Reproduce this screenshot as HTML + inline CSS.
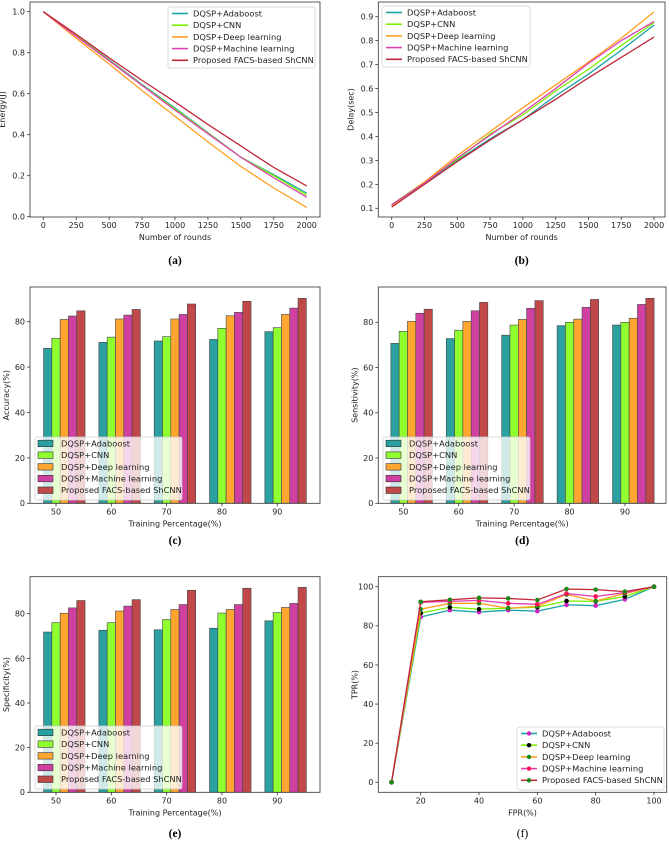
<!DOCTYPE html>
<html><head><meta charset="utf-8"><style>
html,body{margin:0;padding:0;background:#fff;}
svg{display:block;font-family:"DejaVu Sans","Liberation Sans",sans-serif;}
</style></head><body>
<svg id="fig" width="669" height="842" viewBox="0 0 669 842" xmlns="http://www.w3.org/2000/svg"></svg>
<script>
const seriesNames = ["DQSP+Adaboost","DQSP+CNN","DQSP+Deep learning","DQSP+Machine learning","Proposed FACS-based ShCNN"];
const lineColors = ["#1aa3a3","#7cf000","#ffa020","#e040b0","#c02838"];
const barColors = ["#2aa0a0","#90ff30","#ffa530","#d040a0","#c04848"];
const rounds = [0,250,500,750,1000,1250,1500,1750,2000];
const energyAda = [1.0,0.885,0.765,0.645,0.53,0.41,0.29,0.205,0.115];
const energyCnn = [1.0,0.885,0.762,0.642,0.525,0.408,0.29,0.2,0.105];
const energyDeep = [1.0,0.87,0.745,0.615,0.49,0.365,0.245,0.14,0.045];
const energyMl = [1.0,0.88,0.76,0.64,0.52,0.405,0.29,0.19,0.095];
const energyProp = [1.0,0.89,0.775,0.665,0.56,0.45,0.345,0.24,0.15];
const delayAda = [0.11,0.205,0.3,0.39,0.47,0.57,0.66,0.76,0.865];
const delayCnn = [0.115,0.21,0.305,0.41,0.49,0.59,0.68,0.78,0.875];
const delayDeep = [0.11,0.21,0.32,0.42,0.52,0.615,0.71,0.81,0.92];
const delayMl = [0.115,0.205,0.31,0.405,0.5,0.6,0.705,0.8,0.88];
const delayProp = [0.105,0.2,0.295,0.385,0.47,0.555,0.645,0.73,0.815];
const trainPct = [50,60,70,80,90];
const accAda = [68.3,70.9,71.5,72.2,75.6];
const accCnn = [72.7,73.2,73.4,77.1,77.4];
const accDeep = [81,81.2,81.2,82.6,83.2];
const accMl = [82.5,82.9,83.2,84.1,86];
const accProp = [84.8,85.4,87.8,89,90.3];
const senAda = [70.7,72.8,74.3,78.5,78.8];
const senCnn = [76,76.5,78.8,80,80];
const senDeep = [80.4,80.4,81.3,81.4,81.8];
const senMl = [84,85.1,86.2,86.6,87.9];
const senProp = [85.8,88.8,89.6,90.1,90.6];
const speAda = [71.8,72.6,72.8,73.5,76.8];
const speCnn = [76,76,77.4,80.3,80.5];
const speDeep = [80.2,81.2,81.9,81.9,82.8];
const speMl = [82.6,83.4,84.1,84.1,84.6];
const speProp = [85.9,86.3,90.5,91.4,91.8];
const fpr = [10,20,30,40,50,60,70,80,90,100];
const tprAda = [0,84.5,88,87,88,87.5,90.7,90.3,93.5,100];
const tprCnn = [0,86.5,89.5,88.5,89,89.5,92.7,92.5,95,100];
const tprDeep = [0,88.5,91.5,91.5,89,90,96,92.7,96.5,100];
const tprMl = [0,92,92.5,93,91.5,91,96.5,95,97,100];
const tprProp = [0,92.3,93.3,94.3,94,93.2,98.8,98.5,97.5,100];
const markerColors = ["#d020c0","#000000","#1a8a1a","#ff1050","#1a8a1a"];
const roundTicks = [0,250,500,750,1000,1250,1500,1750,2000];
const energyTicks = [0,0.2,0.4,0.6,0.8,1.0];
const delayTicks = [0.1,0.2,0.3,0.4,0.5,0.6,0.7,0.8,0.9];
const barTicks = [0,20,40,60,80];
const fprTicks = [20,40,60,80,100];
const tprTicks = [0,20,40,60,80,100];

const NS="http://www.w3.org/2000/svg";
const svg=document.getElementById('fig');
function mk(tag,attrs,parent,txt){const e=document.createElementNS(NS,tag);for(const k in attrs)e.setAttribute(k,attrs[k]);if(txt!==undefined)e.textContent=txt;(parent||svg).appendChild(e);return e;}
function lin(d0,d1,p0,p1){return v=>p0+(v-d0)*(p1-p0)/(d1-d0);}

function axes(p){
  const g=mk('g',{});
  
  
  p.g=g;
  return g;
}
function frameAndTicks(p){
  const g=p.g;
  const fr=mk('rect',{x:p.L,y:p.T,width:p.R-p.L,height:p.B-p.T,fill:'none',stroke:'#333','stroke-width':0.8},g);
  
  
  p.xt.forEach(v=>{const x=p.sx(v);
    const t=mk('line',{x1:x,x2:x,y1:p.B,y2:p.B+3,stroke:'#333','stroke-width':0.8},g);
    
    
    const l=mk('text',{x:x,y:p.B+11,'font-size':8,'text-anchor':'middle',fill:'#222'},g,p.xf(v));
    
    });
  p.yt.forEach(v=>{const y=p.sy(v);
    const t=mk('line',{x1:p.L-3,x2:p.L,y1:y,y2:y,stroke:'#333','stroke-width':0.8},g);
    
    
    const l=mk('text',{x:p.L-5,y:y+2.9,'font-size':8,'text-anchor':'end',fill:'#222'},g,p.yf(v));
    
    });
  const xl=mk('text',{x:(p.L+p.R)/2,y:p.B+23,'font-size':8,'text-anchor':'middle',fill:'#222'},g,p.xlabel);
  
  
  const yx=p.L-p.ylOff, yy=(p.T+p.B)/2;
  const yl=mk('text',{x:yx,y:yy,'font-size':8,'text-anchor':'middle',fill:'#222',transform:`rotate(-90 ${yx} ${yy})`},g,p.ylabel);
  
  
  const pl=mk('text',{x:(p.L+p.R)/2+p.capDx,y:p.capY,'font-size':11.5,'font-weight':p.capBold?'bold':'normal','text-anchor':'middle','font-family':'"Liberation Serif",serif',fill:'#000'},g,p.cap);
  
  
}
function legend(p,box,kind){
  const g=p.g;
  const lg=mk('g',{},g);
  
  
  const r=mk('rect',{x:box[0],y:box[1],width:box[2],height:box[3],rx:2,fill:'rgba(255,255,255,0.78)',stroke:'#ccc','stroke-width':0.7},lg);
  
  
  seriesNames.forEach((n,i)=>{
    const y=box[1]+6.5+i*box[4];
    const e=mk('g',{},lg);
    
    
    if(kind==='bar'){
      mk('rect',{x:box[0]+3,y:y-3.3,width:15,height:6.5,fill:barColors[i],stroke:'#333','stroke-width':0.6},e);
    }else{
      mk('line',{x1:box[0]+4,x2:box[0]+20,y1:y,y2:y,stroke:lineColors[i],'stroke-width':1.6},e);
      if(kind==='marker') mk('circle',{cx:box[0]+12,cy:y,r:2.2,fill:markerColors[i]},e);
    }
    mk('text',{x:box[0]+(kind==='bar'?26:25),y:y+2.9,'font-size':8.3,fill:'#222'},e,n);
  });
}
function drawLines(p,xs,sets,markers){
  sets.forEach((arr,i)=>{
    const pts=arr.map((v,j)=>p.sx(xs[j]).toFixed(2)+','+p.sy(v).toFixed(2)).join(' ');
    const pl=mk('polyline',{points:pts,fill:'none',stroke:lineColors[i],'stroke-width':1.3},p.g);
    
    
    if(markers){arr.forEach((v,j)=>{
      const c=mk('circle',{cx:p.sx(xs[j]),cy:p.sy(v),r:2.3,fill:markerColors[i]},p.g);
      
      });}
  });
}
function drawBars(p,sets){
  const w=1.5;
  sets.forEach((arr,i)=>{arr.forEach((v,j)=>{
    const cx=trainPct[j]+(i-1)*w;
    const x0=p.sx(cx-w/2),x1=p.sx(cx+w/2);
    const b=mk('rect',{x:x0,y:p.sy(v),width:x1-x0,height:p.sy(0)-p.sy(v),fill:barColors[i],stroke:'#444','stroke-width':0.6},p.g);
    
    
  });});
}
const f1=v=>v.toFixed(1), f0=v=>String(v);
let pa={name:'energy-chart',L:30,R:320,T:2,B:217,sx:lin(0,2000,43.3,306.7),sy:lin(0,1,216.7,11.7),xt:roundTicks,yt:energyTicks,xf:f0,yf:f1,xlabel:'Number of rounds',ylabel:'Energy(J)',ylOff:25,cap:'(a)',capY:264,capBold:true,capDx:0};
axes(pa);drawLines(pa,rounds,[energyAda,energyCnn,energyDeep,energyMl,energyProp]);frameAndTicks(pa);legend(pa,[168,7,147,61,11.7],'line');
let pb={name:'delay-chart',L:378.3,R:665,T:2,B:217,sx:lin(0,2000,391.7,654),sy:lin(0.1,0.9,208.3,16.7),xt:roundTicks,yt:delayTicks,xf:f0,yf:f1,xlabel:'Number of rounds',ylabel:'Delay(sec)',ylOff:25,cap:'(b)',capY:264,capBold:true,capDx:0};
axes(pb);drawLines(pb,rounds,[delayAda,delayCnn,delayDeep,delayMl,delayProp]);frameAndTicks(pb);legend(pb,[382,6,148,61,11.7],'line');
let pc={name:'accuracy-chart',L:30,R:320,T:287,B:503.3,sx:lin(50,90,56,277.3),sy:lin(0,80,503.3,321.7),xt:trainPct,yt:barTicks,xf:f0,yf:f0,xlabel:'Training Percentage(%)',ylabel:'Accuracy(%)',ylOff:21,cap:'(c)',capY:544,capBold:true,capDx:0};
axes(pc);drawBars(pc,[accAda,accCnn,accDeep,accMl,accProp]);frameAndTicks(pc);legend(pc,[35,437,147,63,11.7],'bar');
let pd={name:'sensitivity-chart',L:378.3,R:666,T:287,B:503.3,sx:lin(50,90,403.3,625),sy:lin(0,80,503.3,322.3),xt:trainPct,yt:barTicks,xf:f0,yf:f0,xlabel:'Training Percentage(%)',ylabel:'Sensitivity(%)',ylOff:21,cap:'(d)',capY:544,capBold:true,capDx:0};
axes(pd);drawBars(pd,[senAda,senCnn,senDeep,senMl,senProp]);frameAndTicks(pd);legend(pd,[383,437,147,63,11.7],'bar');
let pe={name:'specificity-chart',L:30,R:320,T:576.7,B:792.3,sx:lin(50,90,56,277.3),sy:lin(0,80,792.3,613.7),xt:trainPct,yt:barTicks,xf:f0,yf:f0,xlabel:'Training Percentage(%)',ylabel:'Specificity(%)',ylOff:21,cap:'(e)',capY:837,capBold:true,capDx:0};
axes(pe);drawBars(pe,[speAda,speCnn,speDeep,speMl,speProp]);frameAndTicks(pe);legend(pe,[35,726,147,63,11.7],'bar');
let pf={name:'roc-chart',L:378.3,R:666.7,T:576.7,B:792.3,sx:lin(20,100,420.7,654),sy:lin(0,100,782.3,586.7),xt:fprTicks,yt:tprTicks,xf:f0,yf:f0,xlabel:'FPR(%)',ylabel:'TPR(%)',ylOff:21,cap:'(f)',capY:837,capBold:false,capDx:0};
axes(pf);drawLines(pf,fpr,[tprAda,tprCnn,tprDeep,tprMl,tprProp],true);frameAndTicks(pf);legend(pf,[517,727,147,63,11.7],'marker');
</script>
</body></html>
